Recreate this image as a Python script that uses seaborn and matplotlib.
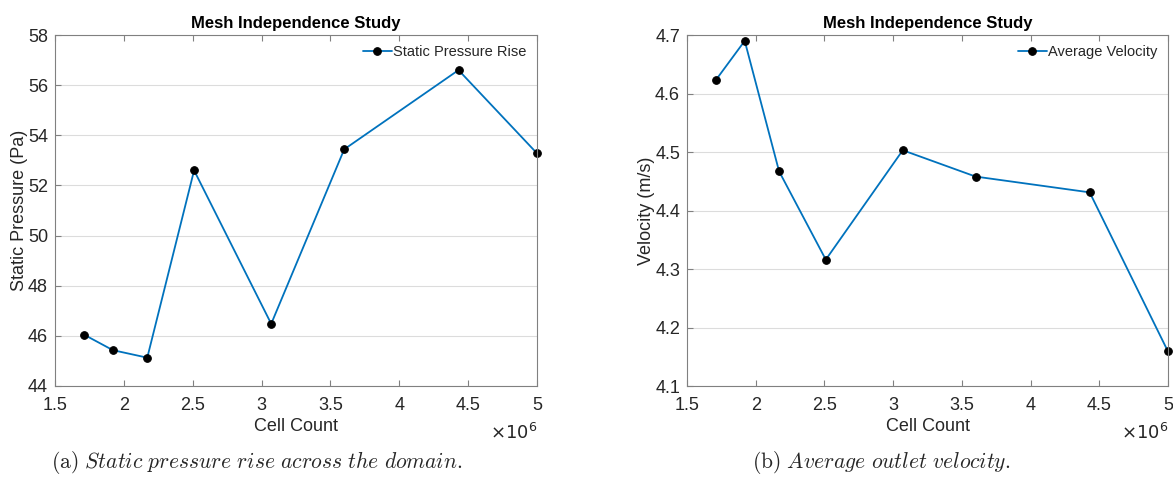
import matplotlib
matplotlib.use("Agg")
import matplotlib.pyplot as plt
import seaborn as sns
import pandas as pd

# Mesh study data (cell count in millions)
cells = [1.71, 1.92, 2.17, 2.51, 3.07, 3.60, 4.43, 5.00]
pressure = [46.05, 45.43, 45.13, 52.60, 46.48, 53.44, 56.60, 53.28]
velocity = [4.623, 4.690, 4.467, 4.316, 4.503, 4.458, 4.431, 4.159]

xticks = [1.5, 2, 2.5, 3, 3.5, 4, 4.5, 5]
xticklabels = ["1.5", "2", "2.5", "3", "3.5", "4", "4.5", "5"]

df = pd.DataFrame({"cells": cells, "pressure": pressure, "velocity": velocity})

sns.set_style("white")
plt.rcParams["font.family"] = ["Liberation Sans", "DejaVu Sans"]
plt.rcParams["mathtext.fontset"] = "cm"

fig = plt.figure(figsize=(11.73, 4.78), dpi=100)
ax1 = fig.add_axes([55 / 1173, 1 - 386 / 478, 482 / 1173, 351 / 478])
ax2 = fig.add_axes([687 / 1173, 1 - 386 / 478, 481 / 1173, 351 / 478])

panels = [
    (ax1, "pressure", "Static Pressure Rise", "Static Pressure (Pa)", (44, 58), range(44, 59, 2),
     r"$\mathrm{(a)}\ \mathit{Static\ pressure\ rise\ across\ the\ domain.}$", 257 / 1173),
    (ax2, "velocity", "Average Velocity", "Velocity (m/s)", (4.1, 4.7),
     [4.1, 4.2, 4.3, 4.4, 4.5, 4.6, 4.7],
     r"$\mathrm{(b)}\ \mathit{Average\ outlet\ velocity.}$", 881 / 1173),
]

text_col = "#262626"
for ax, col, lab, ylab, ylim, yt, cap, capx in panels:
    sns.lineplot(data=df, x="cells", y=col, ax=ax, color="#0072BD", linewidth=1.3,
                 marker="o", markersize=5.5, markerfacecolor="black",
                 markeredgecolor="black", label=lab, clip_on=False)
    ax.set_xlim(1.5, 5)
    ax.set_ylim(*ylim)
    ax.set_xticks(xticks)
    ax.set_xticklabels(xticklabels)
    ax.set_yticks(list(yt))
    if col == "velocity":
        ax.set_yticklabels(["%.1f" % v for v in yt])
    ax.yaxis.grid(True, color="#dcdcdc", linewidth=0.8)
    ax.set_axisbelow(True)
    for s in ax.spines.values():
        s.set_color("#808080")
        s.set_linewidth(0.8)
    ax.tick_params(axis="both", direction="in", length=4, width=0.8, color="#808080",
                   labelsize=13, labelcolor=text_col, top=True, bottom=True, left=True, right=False)
    ax.tick_params(axis="x", pad=8)
    ax.tick_params(axis="y", pad=5)
    ax.set_xlabel("Cell Count", fontsize=13, color=text_col, labelpad=3)
    ax.set_ylabel(ylab, fontsize=13, color=text_col, labelpad=0)
    ax.set_title("Mesh Independence Study", fontsize=12, fontweight="bold", color="black", pad=5)
    ax.text(1.0, -0.105, r"$\times10^6$", transform=ax.transAxes, ha="right", va="top",
            fontsize=13, color=text_col, math_fontfamily="dejavusans")
    leg = ax.legend(loc="upper right", frameon=False, fontsize=10.5, handlelength=2.0,
                    handletextpad=0.1, borderaxespad=0.3)
    for t in leg.get_texts():
        t.set_color(text_col)
    fig.text(capx, 1 - 463 / 478, cap, ha="center", va="center", fontsize=15.5)

fig.savefig("out.png", dpi=100)
